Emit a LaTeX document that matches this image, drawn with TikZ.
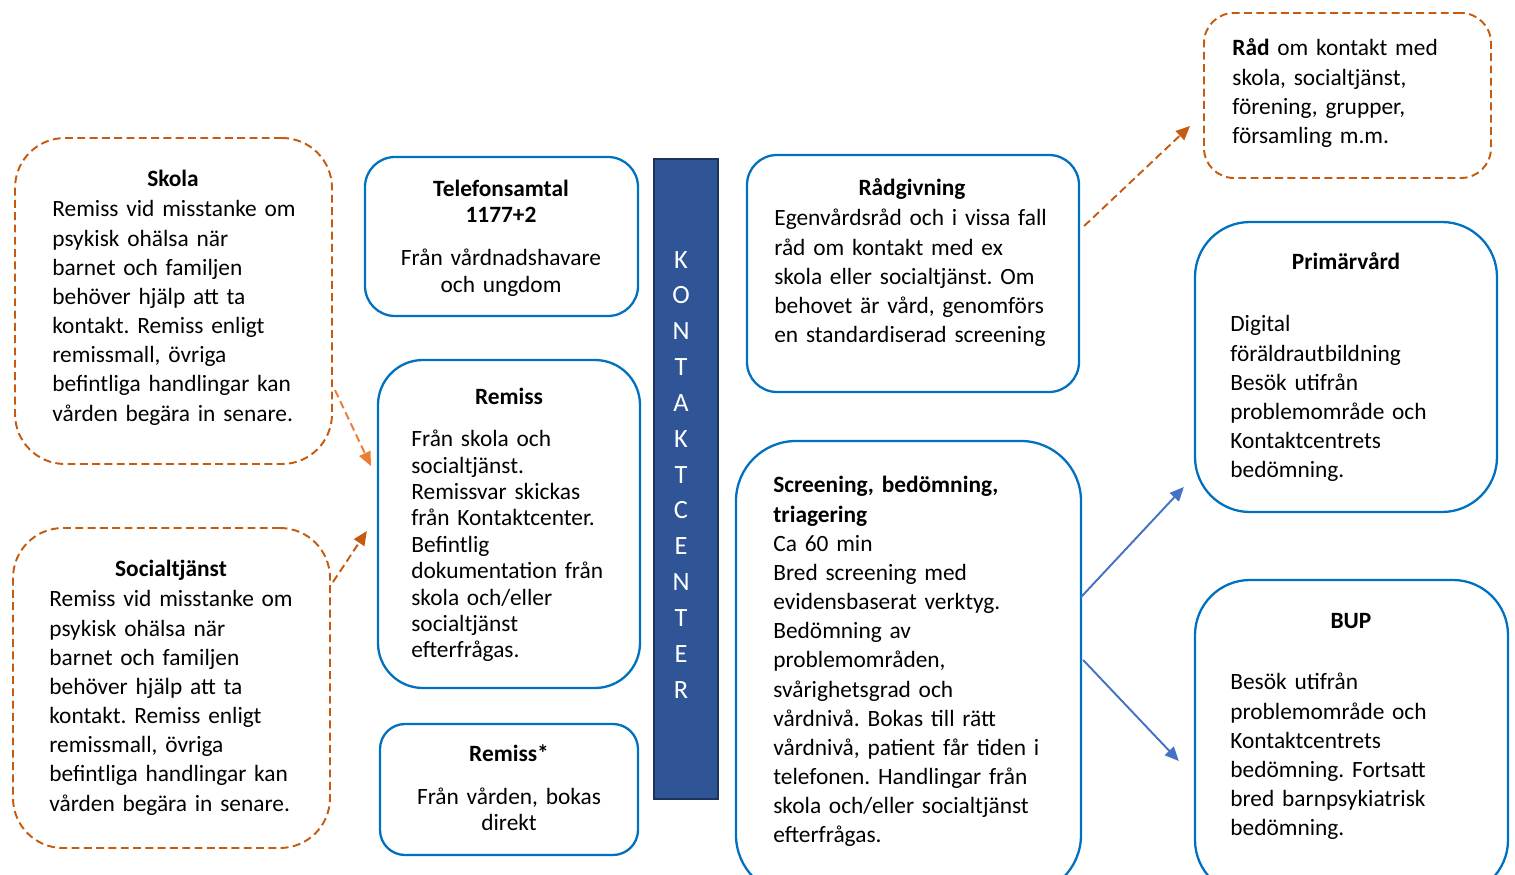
\documentclass[tikz,border=0pt]{standalone}
\usepackage{fontspec}
\setmainfont{Carlito}
\usetikzlibrary{arrows.meta,fit,calc}
\frenchspacing

\definecolor{boxblue}{HTML}{0070C0}
\definecolor{boxorange}{HTML}{C55A11}
\definecolor{lightorange}{HTML}{ED7D31}
\definecolor{arrowblue}{HTML}{4472C4}
\definecolor{barblue}{HTML}{2F5597}

\begin{document}
\begin{tikzpicture}[x=0.02cm,y=-0.02cm,
    bluebox/.style={draw=boxblue,line width=1.3pt,inner sep=0pt},
    orbox/.style={draw=boxorange,line width=1.1pt,dash pattern=on 4.5pt off 2.5pt,inner sep=0pt},
    ttl/.style={font=\fontsize{13.3}{16.6}\selectfont\bfseries,anchor=base,inner sep=0pt,text width=6cm,align=center,yshift=-0.5pt},
    txt/.style={font=\fontsize{13.3}{16.6}\selectfont,anchor=base west,inner sep=0pt,text width=6.5cm,align=left,yshift=-0.5pt},
    ctxt/.style={font=\fontsize{13.3}{15.2}\selectfont,anchor=base,inner sep=0pt,text width=6cm,align=center,yshift=-0.5pt},
    orarrow/.style={draw=boxorange,line width=1.1pt,dash pattern=on 4.5pt off 2.5pt,-{Triangle[length=8pt,width=7pt,fill=boxorange]}},
    bluearrow/.style={draw=arrowblue,line width=1.1pt,-{Triangle[length=8pt,width=7pt,fill=arrowblue]}}]
    \useasboundingbox (0,0) rectangle (1515,875);
    \clip (0,0) rectangle (1515,875);

    % left column
    \node[orbox,rounded corners=1cm,fit={(15,138) (332,464)}] (skola) {};
    \node[ttl] (skolaT) at (173,186) {Skola};
    \node[txt] (skolaB) at (52,216) {Remiss vid misstanke om\\psykisk ohälsa när\\barnet och familjen\\behöver hjälp att ta\\kontakt. Remiss enligt\\remissmall, övriga\\befintliga handlingar kan\\vården begära in senare.};
    \node[orbox,rounded corners=1cm,fit={(13,528) (330,848)}] (social) {};
    \node[ttl] (socialT) at (171,576) {Socialtjänst};
    \node[txt] (socialB) at (49,606) {Remiss vid misstanke om\\psykisk ohälsa när\\barnet och familjen\\behöver hjälp att ta\\kontakt. Remiss enligt\\remissmall, övriga\\befintliga handlingar kan\\vården begära in senare.};

    % ways in
    \node[bluebox,rounded corners=0.6cm,fit={(365,157) (638,316)}] (tel) {};
    \node[ttl,font=\fontsize{13.3}{14.8}\selectfont\bfseries] (telT) at (501,196) {Telefonsamtal\\1177+2};
    \node[ctxt] (telB) at (501,265) {Från vårdnadshavare\\och ungdom};
    \node[bluebox,rounded corners=0.9cm,fit={(378,360) (640,688)}] (remiss) {};
    \node[ttl] (remissT) at (509,404) {Remiss};
    \node[txt,font=\fontsize{13.3}{15}\selectfont] (remissB) at (411,446) {Från skola och\\socialtjänst.\\Remissvar skickas\\från Kontaktcenter.\\Befintlig\\dokumentation från\\skola och/eller\\socialtjänst\\efterfrågas.};
    \node[bluebox,rounded corners=0.5cm,fit={(380,724) (638,855)}] (remissx) {};
    \node[ttl] (remissxT) at (509,761) {Remiss*};
    \node[ctxt,font=\fontsize{13.3}{14.8}\selectfont] (remissxB) at (509,804) {Från vården, bokas\\direkt};

    % kontaktcenter
    \node[draw=barblue!60!black,fill=barblue,line width=0.8pt,inner sep=0pt,fit={(654,159) (718,799)}] (kc) {};
    \node[font=\fontsize{15}{20.4}\selectfont,text=white,anchor=base,inner sep=0pt,text width=1cm,align=center] (kcT) at (681,268) {K\\O\\N\\T\\A\\K\\T\\C\\E\\N\\T\\E\\R};

    % middle column
    \node[bluebox,rounded corners=0.6cm,fit={(747,155) (1079,392)}] (radg) {};
    \node[ttl] (radgT) at (912,195) {Rådgivning};
    \node[txt] (radgB) at (774,225) {Egenvårdsråd och i vissa fall\\råd om kontakt med ex\\skola eller socialtjänst. Om\\behovet är vård, genomförs\\en standardiserad screening};
    \node[bluebox,rounded corners=1.2cm,fit={(736,441) (1081,895)}] (screen) {};
    \node[txt] (screenB) at (773,492) {\textbf{Screening, bedömning,}\\\textbf{triagering}\\Ca 60 min\\Bred screening med\\evidensbaserat verktyg.\\Bedömning av\\problemområden,\\svårighetsgrad och\\vårdnivå. Bokas till rätt\\vårdnivå, patient får tiden i\\telefonen. Handlingar från\\skola och/eller socialtjänst\\efterfrågas.};

    % right column
    \node[orbox,rounded corners=0.6cm,fit={(1204,13) (1491,178)}] (rad) {};
    \node[txt] (radB) at (1232,55) {\textbf{Råd} om kontakt med\\skola, socialtjänst,\\förening, grupper,\\församling m.m.};
    \node[bluebox,rounded corners=1.1cm,fit={(1195,222) (1497,512)}] (prim) {};
    \node[ttl] (primT) at (1346,269) {Primärvård};
    \node[txt] (primB) at (1230,331) {Digital\\föräldrautbildning\\Besök utifrån\\problemområde och\\Kontaktcentrets\\bedömning.};
    \node[bluebox,rounded corners=1.1cm,fit={(1195,580) (1508,895)}] (bup) {};
    \node[ttl] (bupT) at (1351,628) {BUP};
    \node[txt] (bupB) at (1230,689) {Besök utifrån\\problemområde och\\Kontaktcentrets\\bedömning. Fortsatt\\bred barnpsykiatrisk\\bedömning.};

    % arrows
    \draw[orarrow,draw=lightorange,-{Triangle[length=8pt,width=7pt,fill=lightorange]}] ($(skola.east)+(2,89)$) -- ($(remiss.west)+(-6,-58)$);
    \draw[orarrow] ($(social.east)+(2,-106)$) -- ($(remiss.west)+(-10,7)$);
    \draw[orarrow] ($(radg.east)+(4,-47.5)$) -- ($(rad.west)+(-13,30.5)$);
    \draw[bluearrow] ($(screen.east)+(-1,-71)$) -- ($(prim.west)+(-10,120)$);
    \draw[bluearrow] ($(screen.east)+(1,-8)$) -- ($(bup.west)+(-15,23.5)$);
  \end{tikzpicture}
\end{document}
